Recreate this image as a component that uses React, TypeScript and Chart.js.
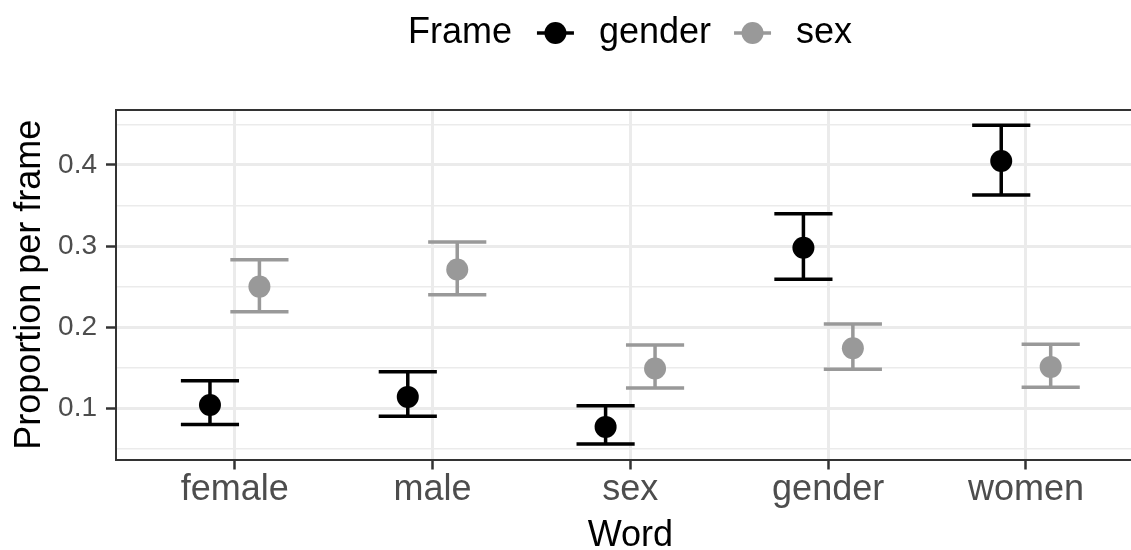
import React, { useEffect, useRef } from 'react';
import { Chart, registerables } from 'chart.js';

Chart.register(...registerables);

// ---------- data ----------
const categories = ['female', 'male', 'sex', 'gender', 'women'];
const frames = ['gender', 'sex'];

const genderMean = [0.104, 0.114, 0.077, 0.298, 0.405];
const genderLow = [0.080, 0.090, 0.056, 0.259, 0.363];
const genderHigh = [0.134, 0.145, 0.103, 0.340, 0.449];

const sexMean = [0.250, 0.271, 0.149, 0.174, 0.151];
const sexLow = [0.219, 0.240, 0.125, 0.148, 0.126];
const sexHigh = [0.283, 0.305, 0.178, 0.204, 0.179];

const yTicks = [0.05, 0.1, 0.15, 0.2, 0.25, 0.3, 0.35, 0.4, 0.45];

const xTitle = 'Word';
const yTitle = 'Proportion per frame';
const legendTitle = 'Frame';

// ---------- styling ----------
const W = 1131;
const H = 550;
const FONT = "'Liberation Sans', Arial, Helvetica, sans-serif";
const BLACK = '#000000';
const GREY = '#999999';
const GRID = '#EBEBEB';
const AXIS = '#333333';
const TICKTXT = '#4D4D4D';
const DODGE = 0.125;
const CAP = 0.147;

const isMajor = (v: number) => Math.round(v * 100) % 10 === 0;

const errorBarPlugin = {
  id: 'errorBars',
  beforeDatasetsDraw(chart: any) {
    const { ctx } = chart;
    const xs = chart.scales.x;
    const ys = chart.scales.y;
    const series = [
      { low: genderLow, high: genderHigh, off: -DODGE, color: BLACK },
      { low: sexLow, high: sexHigh, off: DODGE, color: GREY },
    ];
    ctx.save();
    ctx.lineWidth = 3.5;
    ctx.lineCap = 'butt';
    series.forEach((s) => {
      ctx.strokeStyle = s.color;
      categories.forEach((_, i) => {
        const xc = i + 1 + s.off;
        const px = xs.getPixelForValue(xc);
        const pl = xs.getPixelForValue(xc - CAP);
        const pr = xs.getPixelForValue(xc + CAP);
        const yl = ys.getPixelForValue(s.low[i]);
        const yh = ys.getPixelForValue(s.high[i]);
        ctx.beginPath();
        ctx.moveTo(px, yl);
        ctx.lineTo(px, yh);
        ctx.moveTo(pl, yl);
        ctx.lineTo(pr, yl);
        ctx.moveTo(pl, yh);
        ctx.lineTo(pr, yh);
        ctx.stroke();
      });
    });
    ctx.restore();
  },
};

const panelBorderPlugin = {
  id: 'panelBorder',
  afterDatasetsDraw(chart: any) {
    const { ctx, chartArea } = chart;
    ctx.save();
    ctx.strokeStyle = AXIS;
    ctx.lineWidth = 2;
    ctx.beginPath();
    ctx.moveTo(chartArea.left - 1, chartArea.top);
    ctx.lineTo(chartArea.right, chartArea.top);
    ctx.stroke();
    ctx.restore();
  },
};

// x-axis title centred on the (full, partly cropped) panel, i.e. the middle category
const xTitlePlugin = {
  id: 'xTitle',
  afterDraw(chart: any) {
    const { ctx } = chart;
    const xs = chart.scales.x;
    ctx.save();
    ctx.font = `36px ${FONT}`;
    ctx.fillStyle = BLACK;
    ctx.textAlign = 'center';
    ctx.textBaseline = 'alphabetic';
    ctx.fillText(xTitle, xs.getPixelForValue((categories.length + 1) / 2), 546);
    ctx.restore();
  },
};

const legendPlugin = {
  id: 'ggLegend',
  afterDraw(chart: any) {
    const { ctx } = chart;
    ctx.save();
    ctx.font = `36px ${FONT}`;
    ctx.textBaseline = 'middle';
    ctx.textAlign = 'left';
    const colors = [BLACK, GREY];
    const keyW = 37;
    const gap = 25;
    const itemGap = 23;
    const wTitle = ctx.measureText(legendTitle).width;
    const wLabels = frames.map((f) => ctx.measureText(f).width);
    let total = wTitle + gap;
    wLabels.forEach((w, i) => {
      total += keyW + gap + w + (i < wLabels.length - 1 ? itemGap : 0);
    });
    const cx = 630;
    const y = 33;
    let x = cx - total / 2;
    ctx.fillStyle = BLACK;
    ctx.fillText(legendTitle, x, y);
    x += wTitle + gap;
    frames.forEach((f, i) => {
      ctx.strokeStyle = colors[i];
      ctx.fillStyle = colors[i];
      ctx.lineWidth = 3.5;
      ctx.beginPath();
      ctx.moveTo(x, y);
      ctx.lineTo(x + keyW, y);
      ctx.stroke();
      ctx.beginPath();
      ctx.arc(x + keyW / 2, y, 11, 0, Math.PI * 2);
      ctx.fill();
      x += keyW + gap;
      ctx.fillStyle = BLACK;
      ctx.fillText(f, x, y);
      x += wLabels[i] + itemGap;
    });
    ctx.restore();
  },
};

export default function App() {
  const ref = useRef<HTMLCanvasElement>(null);

  useEffect(() => {
    document.body.style.margin = '0';
    const canvas = ref.current;
    if (!canvas) return;
    const chart = new Chart(canvas, {
      type: 'scatter',
      data: {
        datasets: [
          {
            label: frames[0],
            data: categories.map((_, i) => ({ x: i + 1 - DODGE, y: genderMean[i] })),
            backgroundColor: BLACK,
            borderColor: BLACK,
            borderWidth: 0,
            pointRadius: 11,
            pointHoverRadius: 11,
          },
          {
            label: frames[1],
            data: categories.map((_, i) => ({ x: i + 1 + DODGE, y: sexMean[i] })),
            backgroundColor: GREY,
            borderColor: GREY,
            borderWidth: 0,
            pointRadius: 11,
            pointHoverRadius: 11,
          },
        ],
      },
      options: {
        animation: false,
        responsive: false,
        events: [],
        layout: { autoPadding: false, padding: { top: 110, right: 0, bottom: 0, left: 0 } },
        plugins: {
          legend: { display: false },
          tooltip: { enabled: false },
        },
        scales: {
          x: {
            type: 'linear',
            min: 0.4,
            max: 5.531,
            afterBuildTicks: (s: any) => {
              s.ticks = categories.map((_, i) => ({ value: i + 1 }));
            },
            afterFit: (s: any) => {
              s.height = 90.5;
            },
            ticks: {
              autoSkip: false,
              maxRotation: 0,
              color: TICKTXT,
              padding: 3,
              font: { family: FONT, size: 36, lineHeight: 1 },
              callback: (v: any) => categories[Math.round(v) - 1] ?? '',
            },
            grid: {
              color: GRID,
              lineWidth: 3,
              drawTicks: true,
              tickLength: 10,
              tickColor: AXIS,
              tickWidth: 2.5,
            },
            border: { display: true, color: AXIS, width: 2 },
            title: { display: false },
          },
          y: {
            type: 'linear',
            min: 0.0368,
            max: 0.4678,
            afterBuildTicks: (s: any) => {
              s.ticks = yTicks.map((v) => ({ value: v }));
            },
            afterFit: (s: any) => {
              s.width = 116;
            },
            ticks: {
              color: TICKTXT,
              padding: 9,
              font: { family: FONT, size: 28, lineHeight: 1 },
              callback: (v: any) => (isMajor(v) ? (Math.round(v * 10) / 10).toFixed(1) : ''),
            },
            grid: {
              color: GRID,
              lineWidth: (c: any) => (c.tick && isMajor(c.tick.value) ? 3 : 1.5),
              drawTicks: true,
              tickLength: 10,
              tickColor: (c: any) => (c.tick && isMajor(c.tick.value) ? AXIS : 'rgba(0,0,0,0)'),
              tickWidth: 2.5,
            },
            border: { display: true, color: AXIS, width: 2 },
            title: {
              display: true,
              text: yTitle,
              color: BLACK,
              font: { family: FONT, size: 36, lineHeight: 1 },
              padding: { top: 12, bottom: 0 },
            },
          },
        },
      },
      plugins: [errorBarPlugin, panelBorderPlugin, xTitlePlugin, legendPlugin],
    } as any);
    return () => chart.destroy();
  }, []);

  return (
    <div style={{ width: W, height: H, position: 'relative' }}>
      <canvas ref={ref} width={W} height={H} style={{ display: 'block' }} />
    </div>
  );
}
